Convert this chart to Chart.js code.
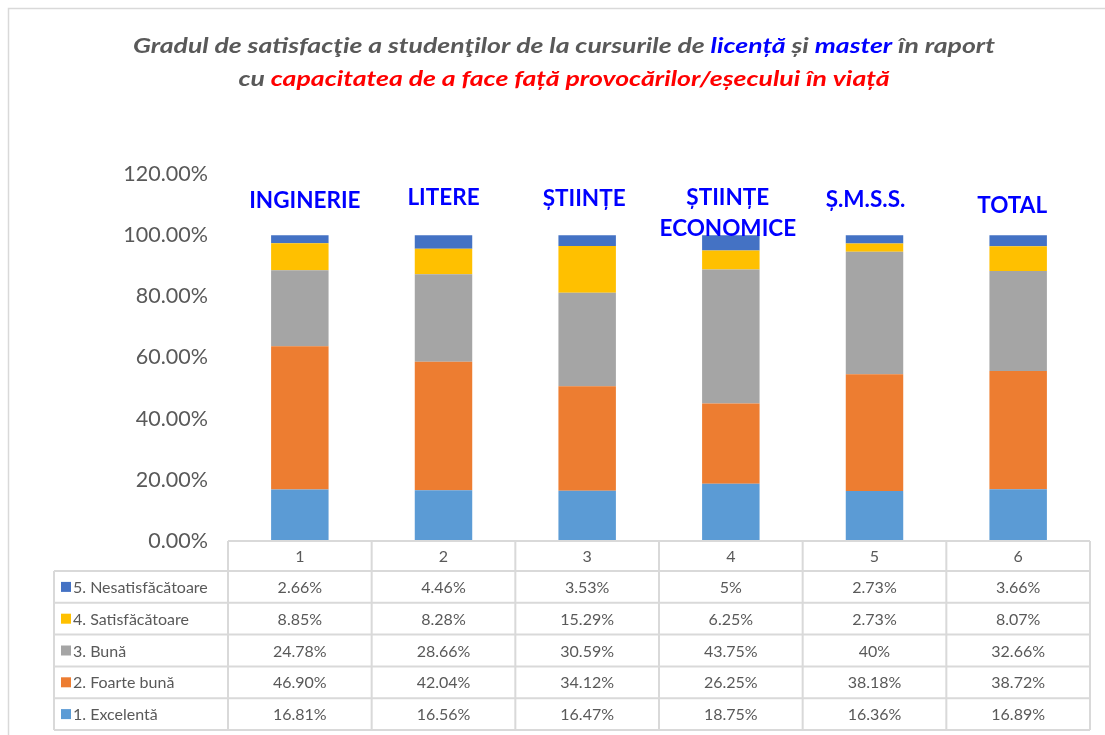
<!DOCTYPE html>
<html>
<head>
<meta charset="utf-8">
<script src="https://cdn.jsdelivr.net/npm/chart.js@4/dist/chart.umd.min.js"></script>
<style>
  html, body { margin: 0; padding: 0; background: #ffffff; }
  #wrap { width: 1105px; height: 735px; position: relative; }
</style>
</head>
<body>
<div id="wrap"><canvas id="c" width="1105" height="735"></canvas></div>
<script>
// ---- DATA ----
const categories = ['1', '2', '3', '4', '5', '6'];
const faculties = [['INGINERIE'], ['LITERE'], ['ȘTIINȚE'], ['ȘTIINȚE', 'ECONOMICE'], ['Ș.M.S.S.'], ['TOTAL']];
const seriesNames = ['1. Excelentă', '2. Foarte bună', '3. Bună', '4. Satisfăcătoare', '5. Nesatisfăcătoare'];
const excelenta       = ['16.81', '16.56', '16.47', '18.75', '16.36', '16.89'];
const foarteBuna      = ['46.90', '42.04', '34.12', '26.25', '38.18', '38.72'];
const buna            = ['24.78', '28.66', '30.59', '43.75', '40', '32.66'];
const satisfacatoare  = ['8.85', '8.28', '15.29', '6.25', '2.73', '8.07'];
const nesatisfacatoare= ['2.66', '4.46', '3.53', '5', '2.73', '3.66'];
const yTicks = [0, 20, 40, 60, 80, 100, 120];

// ---- STYLE ----
const seriesColors = ['#5B9BD5', '#ED7D31', '#A5A5A5', '#FFC000', '#4472C4'];
const seriesValues = [excelenta, foarteBuna, buna, satisfacatoare, nesatisfacatoare];
const FONT = 'Lato, "Open Sans", sans-serif';
const TXT = '#595959';

const datasets = seriesValues.map((vals, i) => ({
  label: seriesNames[i],
  data: vals.map(Number),
  backgroundColor: seriesColors[i],
  borderWidth: 0,
  categoryPercentage: 1.0,
  barPercentage: 0.4
}));

const framePlugin = {
  id: 'framePlugin',
  beforeDraw(chart) {
    const ctx = chart.ctx;
    ctx.save();
    ctx.strokeStyle = '#D9D9D9';
    ctx.lineWidth = 1.5;
    ctx.beginPath();
    ctx.moveTo(8.5, chart.height + 5);
    ctx.lineTo(8.5, 8.5);
    ctx.lineTo(chart.width + 5, 8.5);
    ctx.stroke();
    ctx.restore();
  }
};

const titlePlugin = {
  id: 'titlePlugin',
  afterDraw(chart) {
    const ctx = chart.ctx;
    const lines = [
      [['Gradul de satisfacţie a studenţilor de la cursurile de ', TXT], ['licență', '#0000FF'], [' și ', TXT], ['master', '#0000FF'], [' în raport', TXT]],
      [['cu ', TXT], ['capacitatea de a face față provocărilor/eșecului în viață', '#FF0000']]
    ];
    const ys = [46, 79];
    ctx.save();
    ctx.font = 'italic bold 21px ' + FONT;
    ctx.textBaseline = 'middle';
    ctx.textAlign = 'left';
    const widths = lines.map(segs => segs.reduce((s, g) => s + ctx.measureText(g[0]).width, 0));
    const sx = 862 / widths[0];
    lines.forEach((segs, li) => {
      ctx.save();
      ctx.translate(564, ys[li]);
      ctx.scale(sx, 1);
      let x = -widths[li] / 2;
      segs.forEach(g => {
        ctx.fillStyle = g[1];
        ctx.fillText(g[0], x, 0);
        x += ctx.measureText(g[0]).width;
      });
      ctx.restore();
    });
    ctx.restore();
  }
};

const facultyPlugin = {
  id: 'facultyPlugin',
  afterDatasetsDraw(chart) {
    const ctx = chart.ctx;
    const xs = chart.scales.x;
    const dx = [5, 0, -3, -3, -9, -6];
    const ys = [201, 198, 199, 198, 200, 206];
    ctx.save();
    ctx.font = 'bold 22.5px ' + FONT;
    ctx.fillStyle = '#0000FF';
    ctx.textAlign = 'center';
    ctx.textBaseline = 'middle';
    faculties.forEach((lines, i) => {
      const cx = xs.getPixelForValue(i) + dx[i];
      lines.forEach((t, k) => ctx.fillText(t, cx, ys[i] + k * 31));
    });
    ctx.restore();
  }
};

const tablePlugin = {
  id: 'tablePlugin',
  afterDraw(chart) {
    const ctx = chart.ctx;
    const xs = chart.scales.x;
    const area = chart.chartArea;
    const half = (xs.getPixelForValue(1) - xs.getPixelForValue(0)) / 2;
    const colEdges = categories.map((c, i) => xs.getPixelForValue(i) - half);
    colEdges.push(xs.getPixelForValue(categories.length - 1) + half);
    const top = area.bottom;
    const headerH = 30;
    const rowH = 31.8;
    const leftX = 54;
    const nRows = seriesNames.length;
    const bottom = top + headerH + nRows * rowH;
    ctx.save();
    ctx.strokeStyle = '#D9D9D9';
    ctx.lineWidth = 2;
    ctx.beginPath();
    ctx.moveTo(colEdges[0], top); ctx.lineTo(colEdges[colEdges.length - 1], top);
    for (let r = 0; r <= nRows; r++) {
      const y = top + headerH + r * rowH;
      ctx.moveTo(leftX, y); ctx.lineTo(colEdges[colEdges.length - 1], y);
    }
    colEdges.forEach(x => { ctx.moveTo(x, top); ctx.lineTo(x, bottom); });
    ctx.moveTo(leftX, top + headerH); ctx.lineTo(leftX, bottom);
    ctx.stroke();

    ctx.fillStyle = TXT;
    ctx.font = '16px ' + FONT;
    ctx.textAlign = 'center';
    ctx.textBaseline = 'middle';
    categories.forEach((c, i) => ctx.fillText(c, xs.getPixelForValue(i), top + headerH / 2 + 1));
    for (let r = 0; r < nRows; r++) {
      const si = nRows - 1 - r;
      const yc = top + headerH + r * rowH + rowH / 2 + 1;
      seriesValues[si].forEach((v, i) => {
        ctx.fillStyle = TXT;
        ctx.textAlign = 'center';
        ctx.fillText(v + '%', xs.getPixelForValue(i), yc);
      });
      ctx.fillStyle = seriesColors[si];
      ctx.fillRect(61, yc - 6, 10, 10);
      ctx.fillStyle = TXT;
      ctx.textAlign = 'left';
      ctx.fillText(seriesNames[si], 73, yc);
    }
    ctx.restore();
  }
};

new Chart(document.getElementById('c'), {
  type: 'bar',
  data: { labels: categories, datasets },
  options: {
    responsive: false,
    devicePixelRatio: 1,
    animation: false,
    layout: { padding: { top: 174, bottom: 194, left: 0, right: 15 } },
    plugins: { legend: { display: false }, title: { display: false }, tooltip: { enabled: false } },
    scales: {
      x: { stacked: true, display: false },
      y: {
        stacked: true,
        min: 0, max: 120,
        afterBuildTicks(scale) { scale.ticks = yTicks.map(v => ({ value: v })); },
        afterFit(scale) { scale.width = 228; },
        grid: { display: false },
        border: { display: false },
        ticks: {
          color: TXT,
          font: { family: FONT, size: 21.5 },
          padding: 12,
          callback: v => v.toFixed(2) + '%'
        }
      }
    }
  },
  plugins: [framePlugin, titlePlugin, facultyPlugin, tablePlugin]
});
</script>
</body>
</html>
